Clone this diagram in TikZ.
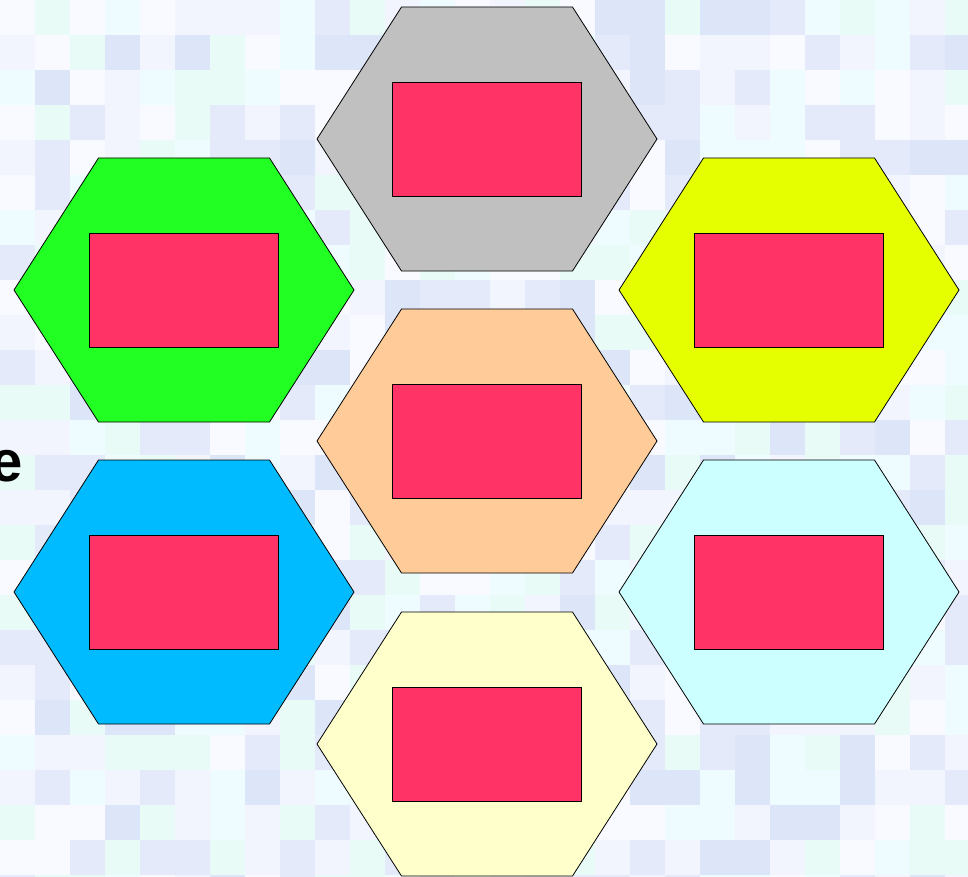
\documentclass[tikz,border=0pt]{standalone}
\usepackage{fontspec}
\setmainfont{Liberation Sans}
\usetikzlibrary{calc}
\definecolor{hgray}{HTML}{C0C0C0}
\definecolor{hgreen}{HTML}{22FF22}
\definecolor{hyellow}{HTML}{E5FF00}
\definecolor{horange}{HTML}{FFCC99}
\definecolor{hblue}{HTML}{00BBFF}
\definecolor{hcyan}{HTML}{CCFFFF}
\definecolor{hpale}{HTML}{FFFFCC}
\definecolor{rectred}{HTML}{FF3366}
\definecolor{bgA}{HTML}{F2F5FD}
\definecolor{bgB}{HTML}{E4EAFA}
\definecolor{bgC}{HTML}{E8FBF6}
\definecolor{bgD}{HTML}{F8FAFF}
\definecolor{bgE}{HTML}{DDE6F8}
\definecolor{bgF}{HTML}{EEFBFF}
\tikzset{
  hexcell/.style={draw=black, line width=0.8pt},
  innerbox/.style={draw=black, line width=0.8pt, fill=rectred, minimum width=189pt, minimum height=114pt, inner sep=0pt},
}
\begin{document}
\begin{tikzpicture}[x=1pt,y=-1pt]
\useasboundingbox (0,0) rectangle (968,877);
\fill[bgA] (0,0) rectangle (968,877);
\pgfmathsetseed{7}
\foreach \i in {0,...,27}{
  \foreach \j in {0,...,25}{
    \pgfmathrandominteger{\c}{1}{6}
    \ifcase\c\or\def\cc{bgA}\or\def\cc{bgB}\or\def\cc{bgC}\or\def\cc{bgD}\or\def\cc{bgE}\or\def\cc{bgF}\fi
    \fill[\cc] ({\i*35},{\j*35}) rectangle ({\i*35+35},{\j*35+35});
  }
}
\node[anchor=east, font=\bfseries\fontsize{58}{60}\selectfont, inner sep=0pt] (etext) at (23,466) {e};
\foreach \name/\cx/\cy/\col in {top/487/139/hgray, green/184/290/hgreen, yellow/789/290/hyellow, mid/487/441/horange, blue/184/592/hblue, cyan/789/592/hcyan, bottom/487/744/hpale}{
  \coordinate (\name) at (\cx,\cy);
  \draw[hexcell, fill=\col] ($(\name)+(-85.5,-132)$) -- ($(\name)+(85.5,-132)$) -- ($(\name)+(170,0)$) -- ($(\name)+(85.5,132)$) -- ($(\name)+(-85.5,132)$) -- ($(\name)+(-170,0)$) -- cycle;
  \node[innerbox] (\name-box) at (\name) {};
}
\end{tikzpicture}
\end{document}
